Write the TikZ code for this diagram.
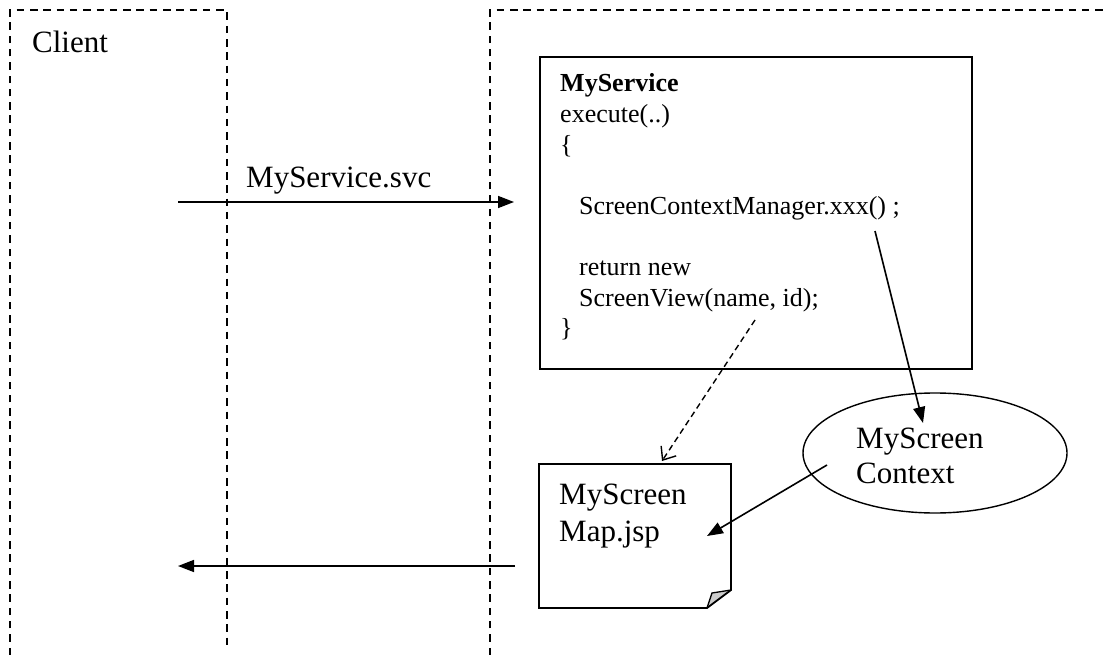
\documentclass[tikz,border=0pt]{standalone}
\usepackage{fontspec}
\setmainfont{Liberation Serif}
\usetikzlibrary{arrows.meta,positioning,shapes.geometric}

\tikzset{
	region/.style={line width=1.4pt, dash pattern=on 7.5pt off 5.8pt},
	link/.style={line width=1.6pt, -{Triangle[length=16pt,width=12pt]}},
	retlink/.style={line width=1.4pt, dash pattern=on 6pt off 4pt, -{Straight Barb[length=11pt,width=18pt,line width=1.4pt]}},
	big/.style={font=\fontsize{31}{36}\selectfont, inner sep=0pt},
	code/.style={font=\fontsize{26}{30.6}\selectfont, inner sep=0pt},
}

\begin{document}
\begin{tikzpicture}[x=1pt,y=-1pt]

	\useasboundingbox (0,0) rectangle (1103,655);

	% ---- regions

	\coordinate (C1) at (10,655);
	\coordinate (C2) at (10,10);
	\coordinate (C3) at (227,10);
	\coordinate (C4) at (227,648);
	\coordinate (S1) at (490,655);
	\coordinate (S2) at (490,10);
	\coordinate (S3) at (1103,10);

	\draw[region] (C1) -- (C2) -- (C3) -- (C4);
	\draw[region] (S1) -- (S2) -- (S3);

	\node[big, anchor=base west] (client) at (32,53) {Client};

	% ---- service box

	\node[draw, line width=1.8pt, minimum width=432pt, minimum height=312pt,
		anchor=north west] (service) at (539,56) {};
	\node[code, anchor=base west] (body) at (560,92) {%
		\begin{tabular}[t]{@{}l@{}}
			\textbf{MyService}\\
			execute(..)\\
			\{\\
			\\
			\hspace*{19pt}ScreenContextManager.xxx() ;\\
			\\
			\hspace*{19pt}return new\\
			\hspace*{19pt}ScreenView(name, id);\\
			\}
		\end{tabular}};

	% ---- context ellipse

	\node[ellipse, draw, line width=1.4pt, minimum width=264pt, minimum height=120pt]
		(context) at (935,453) {};
	\node[big, anchor=base west] (ctxtext) at (856,448) {%
		\begin{tabular}[t]{@{}l@{}}MyScreen\\[-1pt]Context\end{tabular}};

	% ---- jsp page

	\coordinate (D1) at (539,464);
	\coordinate (D2) at (731,464);
	\coordinate (D3) at (731,590);
	\coordinate (D4) at (707,608);
	\coordinate (D5) at (539,608);
	\coordinate (F1) at (712,593);

	\fill[gray!40] (D3) -- (D4) .. controls (709,600) .. (F1) -- cycle;
	\draw[line width=1.3pt] (D3) -- (F1) .. controls (709,600) .. (D4);
	\draw[line width=1.8pt, line join=miter] (D1) -- (D2) -- (D3) -- (D4) -- (D5) -- cycle;

	\node[big, anchor=base west] (maptext) at (559,504) {%
		\begin{tabular}[t]{@{}l@{}}MyScreen\\[1pt]Map.jsp\end{tabular}};

	% ---- connectors

	\coordinate (A0) at (178,202);
	\coordinate (A1) at (514,202);
	\coordinate (R0) at (515,566);
	\coordinate (R1) at (178,566);
	\coordinate (X0) at (875,231);
	\coordinate (X1) at (923,423);
	\coordinate (V0) at (755,320);
	\coordinate (V1) at (662,461);
	\coordinate (M0) at (827,465);
	\coordinate (M1) at (707,536);

	\draw[link] (A0) -- (A1);
	\node[big, anchor=base west] (svc) at (246,188) {MyService.svc};
	\draw[link] (R0) -- (R1);
	\draw[link] (X0) -- (X1);
	\draw[retlink] (V0) -- (V1);
	\draw[link] (M0) -- (M1);

\end{tikzpicture}
\end{document}
